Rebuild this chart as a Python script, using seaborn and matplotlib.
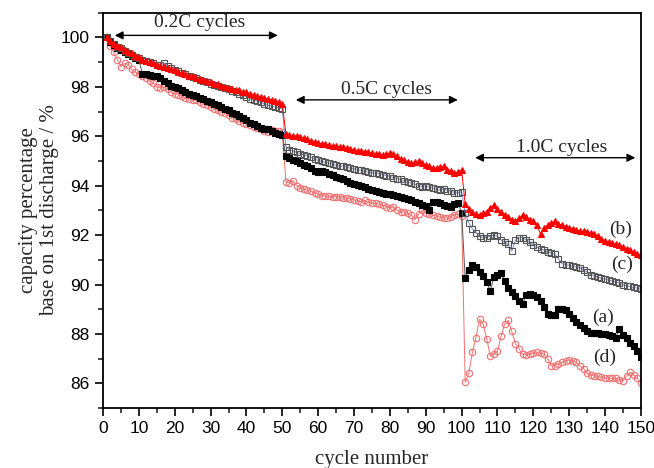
import numpy as np
import pandas as pd
import matplotlib
matplotlib.use("Agg")
import matplotlib.pyplot as plt
import seaborn as sns
from matplotlib.ticker import MultipleLocator

# Dados (ciclos 1..150)
ciclos = list(range(1, 151))

serie_b = [
    100.0, 99.85, 99.75, 99.65, 99.6, 99.5, 99.4, 99.35, 99.25, 99.2,
    99.1, 99.05, 99.0, 98.95, 98.9, 98.85, 98.8, 98.75, 98.7, 98.68,
    98.6, 98.55, 98.5, 98.45, 98.42, 98.35, 98.3, 98.28, 98.22, 98.18,
    98.12, 98.1, 98.05, 98.0, 97.95, 97.9, 97.88, 97.85, 97.8, 97.78,
    97.72, 97.68, 97.62, 97.6, 97.55, 97.5, 97.48, 97.42, 97.38, 97.3,
    96.1, 96.05, 96.02, 96.0, 95.98, 95.92, 95.88, 95.82, 95.78, 95.72,
    95.7, 95.68, 95.65, 95.62, 95.6, 95.58, 95.55, 95.52, 95.5, 95.45,
    95.42, 95.4, 95.38, 95.35, 95.32, 95.3, 95.28, 95.22, 95.28, 95.32,
    95.3, 95.18, 95.08, 95.02, 94.95, 94.92, 94.95, 94.98, 94.9, 94.85,
    94.8, 94.72, 94.7, 94.75, 94.78, 94.65, 94.58, 94.52, 94.55, 94.62,
    93.25, 93.05, 92.95, 92.85, 92.8, 92.88, 92.95, 93.1, 93.22, 93.05,
    92.95, 92.82, 92.72, 92.62, 92.58, 92.68, 92.8, 92.75, 92.62, 92.55,
    92.4, 92.05, 92.3, 92.4, 92.5, 92.55, 92.45, 92.4, 92.32, 92.28,
    92.25, 92.2, 92.18, 92.15, 92.12, 92.1, 92.05, 91.95, 91.85, 91.78,
    91.72, 91.68, 91.62, 91.58, 91.52, 91.45, 91.4, 91.32, 91.25, 91.18,
]

serie_c = [
    100.0, 99.85, 99.75, 99.6, 99.55, 99.45, 99.35, 99.3, 99.2, 99.15,
    99.1, 99.05, 99.0, 98.95, 98.9, 98.88, 98.95, 98.85, 98.75, 98.68,
    98.62, 98.55, 98.5, 98.45, 98.4, 98.35, 98.28, 98.22, 98.18, 98.12,
    98.08, 98.05, 98.0, 97.95, 97.9, 97.82, 97.78, 97.72, 97.65, 97.6,
    97.52, 97.48, 97.42, 97.38, 97.3, 97.25, 97.22, 97.18, 97.15, 97.12,
    95.58, 95.45, 95.4, 95.35, 95.3, 95.25, 95.2, 95.15, 95.08, 95.02,
    94.98, 94.95, 94.92, 94.88, 94.82, 94.78, 94.8, 94.75, 94.7, 94.68,
    94.65, 94.62, 94.58, 94.55, 94.52, 94.5, 94.48, 94.45, 94.4, 94.38,
    94.32, 94.28, 94.25, 94.2, 94.15, 94.1, 94.05, 94.0, 93.95, 93.98,
    93.95, 93.9, 93.85, 93.82, 93.88, 93.8, 93.78, 93.72, 93.7, 93.75,
    92.9, 92.5, 92.25, 92.1, 91.95, 91.9, 91.9, 91.95, 92.02, 91.95,
    91.8, 91.7, 91.62, 91.35, 91.8, 91.88, 91.9, 91.8, 91.7, 91.58,
    91.5, 91.45, 91.38, 91.32, 91.28, 91.22, 91.05, 90.85, 90.8, 90.78,
    90.75, 90.7, 90.68, 90.6, 90.5, 90.4, 90.35, 90.3, 90.25, 90.22,
    90.18, 90.15, 90.1, 90.05, 90.0, 89.95, 89.92, 89.88, 89.85, 89.8,
]

serie_a = [
    100.0, 99.82, 99.68, 99.58, 99.48, 99.4, 99.32, 99.25, 99.18, 99.1,
    98.52, 98.5, 98.48, 98.45, 98.42, 98.35, 98.25, 98.15, 98.05, 98.0,
    97.95, 97.88, 97.8, 97.72, 97.68, 97.62, 97.55, 97.5, 97.42, 97.38,
    97.32, 97.25, 97.2, 97.12, 97.05, 96.95, 96.88, 96.8, 96.72, 96.65,
    96.55, 96.5, 96.42, 96.35, 96.3, 96.28, 96.22, 96.12, 96.08, 96.05,
    95.18, 95.1, 95.05, 95.0, 94.92, 94.85, 94.8, 94.72, 94.6, 94.55,
    94.58, 94.55, 94.48, 94.42, 94.35, 94.3, 94.25, 94.2, 94.12, 94.08,
    94.02, 93.98, 93.95, 93.88, 93.82, 93.8, 93.75, 93.72, 93.68, 93.65,
    93.62, 93.58, 93.55, 93.5, 93.45, 93.4, 93.35, 93.3, 93.22, 93.18,
    93.02, 93.35, 93.32, 93.28, 93.22, 93.18, 93.15, 93.25, 93.3, 92.9,
    90.25, 90.6, 90.8, 90.7, 90.5, 90.35, 90.1, 89.75, 90.3, 90.4,
    90.48, 90.15, 89.85, 89.7, 89.55, 89.35, 89.22, 89.58, 89.6, 89.58,
    89.48, 89.35, 89.1, 88.82, 88.78, 88.75, 89.0, 89.02, 88.95, 88.8,
    88.65, 88.5, 88.35, 88.25, 88.1, 88.05, 88.05, 88.02, 88.0, 87.98,
    87.95, 87.92, 87.85, 88.22, 87.95, 87.85, 87.65, 87.5, 87.3, 87.05,
]

serie_d = [
    100.0, 99.65, 99.4, 99.1, 98.82, 98.95, 98.9, 98.7, 98.6, 98.5,
    98.45, 98.35, 98.25, 98.15, 98.0, 97.95, 97.98, 97.9, 97.8, 97.72,
    97.68, 97.62, 97.55, 97.52, 97.48, 97.45, 97.4, 97.32, 97.25, 97.18,
    97.12, 97.05, 97.0, 96.95, 96.85, 96.75, 96.68, 96.62, 96.55, 96.5,
    96.45, 96.38, 96.32, 96.28, 96.2, 96.18, 96.25, 96.22, 96.2, 96.18,
    94.15, 94.12, 94.2, 94.0, 93.92, 93.85, 93.82, 93.78, 93.7, 93.65,
    93.6, 93.58, 93.58, 93.55, 93.55, 93.55, 93.52, 93.5, 93.45, 93.42,
    93.38, 93.35, 93.4, 93.32, 93.28, 93.3, 93.25, 93.2, 93.15, 93.1,
    93.15, 93.0, 92.92, 92.95, 92.88, 92.8, 92.62, 92.85, 93.0, 92.9,
    92.85, 92.8, 92.78, 92.72, 92.7, 92.68, 92.75, 92.82, 92.85, 92.78,
    86.05, 86.4, 87.25, 87.85, 88.6, 88.4, 87.8, 87.1, 87.2, 87.3,
    87.9, 88.4, 88.55, 88.1, 87.6, 87.4, 87.18, 87.15, 87.2, 87.22,
    87.25, 87.22, 87.18, 87.0, 86.7, 86.72, 86.78, 86.85, 86.9, 86.95,
    86.9, 86.85, 86.7, 86.6, 86.4, 86.35, 86.3, 86.28, 86.25, 86.22,
    86.22, 86.2, 86.2, 86.15, 86.1, 86.3, 86.45, 86.35, 86.2, 86.02,
]

rotulos = ["(a)", "(b)", "(c)", "(d)"]

sns.set_style("ticks")
plt.rcParams["font.family"] = ["Liberation Sans", "DejaVu Sans"]
serif = ["Liberation Serif", "DejaVu Serif"]

fig, ax = plt.subplots(figsize=(6.54, 4.68), dpi=100)
fig.subplots_adjust(left=0.1575, right=0.98, bottom=0.128, top=0.973)

estilos = [
    # (dados, marcador, face, borda, cor da linha)
    (serie_d, "o", "none", "#f07070", "#f07070"),
    (serie_a, "s", "black", "black", "#555555"),
    (serie_c, "s", "none", "#555555", "#7a8fd0"),
    (serie_b, "^", "red", "red", "red"),
]
for dados, mk, face, borda, cor in estilos:
    sns.lineplot(x=ciclos, y=dados, ax=ax, color=cor, linewidth=0.7,
                 marker=mk, markersize=4.6, markerfacecolor=face,
                 markeredgecolor=borda, markeredgewidth=0.8)

ax.set_xlim(0, 150)
ax.set_ylim(85, 101)
ax.xaxis.set_major_locator(MultipleLocator(10))
ax.xaxis.set_minor_locator(MultipleLocator(5))
ax.yaxis.set_major_locator(MultipleLocator(2))
ax.yaxis.set_minor_locator(MultipleLocator(1))
ax.tick_params(which="major", length=6, width=1.2, labelsize=12.5, colors="black")
ax.tick_params(which="minor", length=3.5, width=1.2)
for s in ax.spines.values():
    s.set_linewidth(1.3)
    s.set_color("black")

ax.set_xlabel("cycle number", family=serif, fontsize=15, labelpad=10)
ax.set_ylabel("capacity percentage\nbase on 1st discharge / %", family=serif,
              fontsize=15, linespacing=1.15)
ax.yaxis.set_label_coords(-0.082, 0.5)

# setas das regiões de taxa
seta = dict(arrowstyle="<|-|>", color="black", lw=1.0, mutation_scale=12)
ax.annotate("", xy=(2.5, 100.08), xytext=(49.5, 100.08), arrowprops=seta)
ax.annotate("", xy=(53, 97.47), xytext=(99.7, 97.47), arrowprops=seta)
ax.annotate("", xy=(103, 95.13), xytext=(149.2, 95.13), arrowprops=seta)
ax.text(27, 100.62, "0.2C cycles", family=serif, fontsize=14, ha="center", va="center")
ax.text(79, 97.9, "0.5C cycles", family=serif, fontsize=14, ha="center", va="center")
ax.text(128, 95.55, "1.0C cycles", family=serif, fontsize=14, ha="center", va="center")

ax.text(144.4, 92.23, rotulos[1], family=serif, fontsize=14, ha="center", va="center")
ax.text(144.8, 90.8, rotulos[2], family=serif, fontsize=14, ha="center", va="center")
ax.text(139.4, 88.68, rotulos[0], family=serif, fontsize=14, ha="center", va="center")
ax.text(139.8, 87.07, rotulos[3], family=serif, fontsize=14, ha="center", va="center")

fig.savefig("out.png", dpi=100)
